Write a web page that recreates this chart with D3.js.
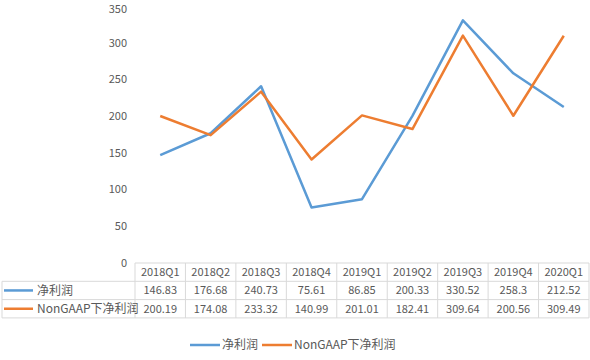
<!DOCTYPE html>
<html><head><meta charset="utf-8">
<script src="https://cdn.jsdelivr.net/npm/d3@7"></script>
<style>
body{margin:0;background:#fff;}
svg{display:block;font-family:"Noto Sans CJK SC","Noto Sans",sans-serif;}
</style></head>
<body><svg id="c" width="590" height="360"></svg>
<script>
const categories = ["2018Q1","2018Q2","2018Q3","2018Q4","2019Q1","2019Q2","2019Q3","2019Q4","2020Q1"];
const netProfit = [146.83,176.68,240.73,75.61,86.85,200.33,330.52,258.3,212.52];
const nonGaapProfit = [200.19,174.08,233.32,140.99,201.01,182.41,309.64,200.56,309.49];
const netProfitLabels = ["146.83","176.68","240.73","75.61","86.85","200.33","330.52","258.3","212.52"];
const nonGaapLabels = ["200.19","174.08","233.32","140.99","201.01","182.41","309.64","200.56","309.49"];
const seriesNames = ["净利润","NonGAAP下净利润"];
const yTicks = [0,50,100,150,200,250,300,350];
const colors = ["#5B9BD5","#ED7D31"];

const svg = d3.select("#c");
const plotLeft = 135, plotRight = 589, plotTop = 6, plotBottom = 263;
const x = d3.scaleBand().domain(categories).range([plotLeft,plotRight]);
const y = d3.scaleLinear().domain([0,350]).range([plotBottom,plotTop]);
const textColor = "#595959", gridColor = "#d9d9d9";

// y axis labels
svg.append("g").selectAll("text").data(yTicks).join("text")
  .attr("x",127).attr("y",d=>Math.max(y(d),9)).attr("dy","0.35em")
  .attr("text-anchor","end").attr("font-size",11).attr("fill",textColor)
  .text(d=>d);

// lines
const series = [netProfit, nonGaapProfit];
const line = d3.line().x((d,i)=>x(categories[i])+x.bandwidth()/2).y(d=>y(d));
series.forEach((s,k)=>{
  svg.append("path").datum(s).attr("d",line).attr("fill","none")
    .attr("stroke",colors[k]).attr("stroke-width",2.5).attr("stroke-linejoin","round");
});

// data table
const rowTop = plotBottom, rowH = 18.3;
const rowsY = [rowTop, rowTop+rowH, rowTop+2*rowH, rowTop+3*rowH];
const g = svg.append("g").attr("stroke",gridColor).attr("stroke-width",1).attr("fill","none");
g.append("line").attr("x1",plotLeft).attr("x2",plotRight).attr("y1",rowsY[0]).attr("y2",rowsY[0]);
[1,2,3].forEach(i=>g.append("line").attr("x1",2).attr("x2",plotRight).attr("y1",rowsY[i]).attr("y2",rowsY[i]));
categories.forEach(c=>g.append("line").attr("x1",x(c)).attr("x2",x(c)).attr("y1",rowsY[0]).attr("y2",rowsY[3]));
g.append("line").attr("x1",plotRight).attr("x2",plotRight).attr("y1",rowsY[0]).attr("y2",rowsY[3]);
g.append("line").attr("x1",2).attr("x2",2).attr("y1",rowsY[1]).attr("y2",rowsY[3]);

svg.append("g").selectAll("text").data(categories).join("text")
  .attr("x",d=>x(d)+x.bandwidth()/2).attr("y",(rowsY[0]+rowsY[1])/2).attr("dy","0.35em")
  .attr("text-anchor","middle").attr("font-size",11).attr("fill",textColor).text(d=>d);
const labelRows = [netProfitLabels, nonGaapLabels];
labelRows.forEach((lab,k)=>{
  const cy = (rowsY[k+1]+rowsY[k+2])/2;
  svg.append("g").selectAll("text").data(lab).join("text")
    .attr("x",(d,i)=>x(categories[i])+x.bandwidth()/2).attr("y",cy).attr("dy","0.35em")
    .attr("text-anchor","middle").attr("font-size",11).attr("fill",textColor).text(d=>d);
  svg.append("line").attr("x1",4).attr("x2",33).attr("y1",cy).attr("y2",cy)
    .attr("stroke",colors[k]).attr("stroke-width",2.5);
  svg.append("text").attr("x",37).attr("y",cy).attr("dy","0.35em")
    .attr("font-size",12).attr("fill",textColor).text(seriesNames[k]);
});

const legY = 345;
const legX = [190, 262];
seriesNames.forEach((n,k)=>{
  svg.append("line").attr("x1",legX[k]).attr("x2",legX[k]+30).attr("y1",legY).attr("y2",legY)
    .attr("stroke",colors[k]).attr("stroke-width",2.5);
  svg.append("text").attr("x",legX[k]+32).attr("y",legY).attr("dy","0.35em")
    .attr("font-size",12).attr("fill",textColor).text(n);
});
</script></body></html>
